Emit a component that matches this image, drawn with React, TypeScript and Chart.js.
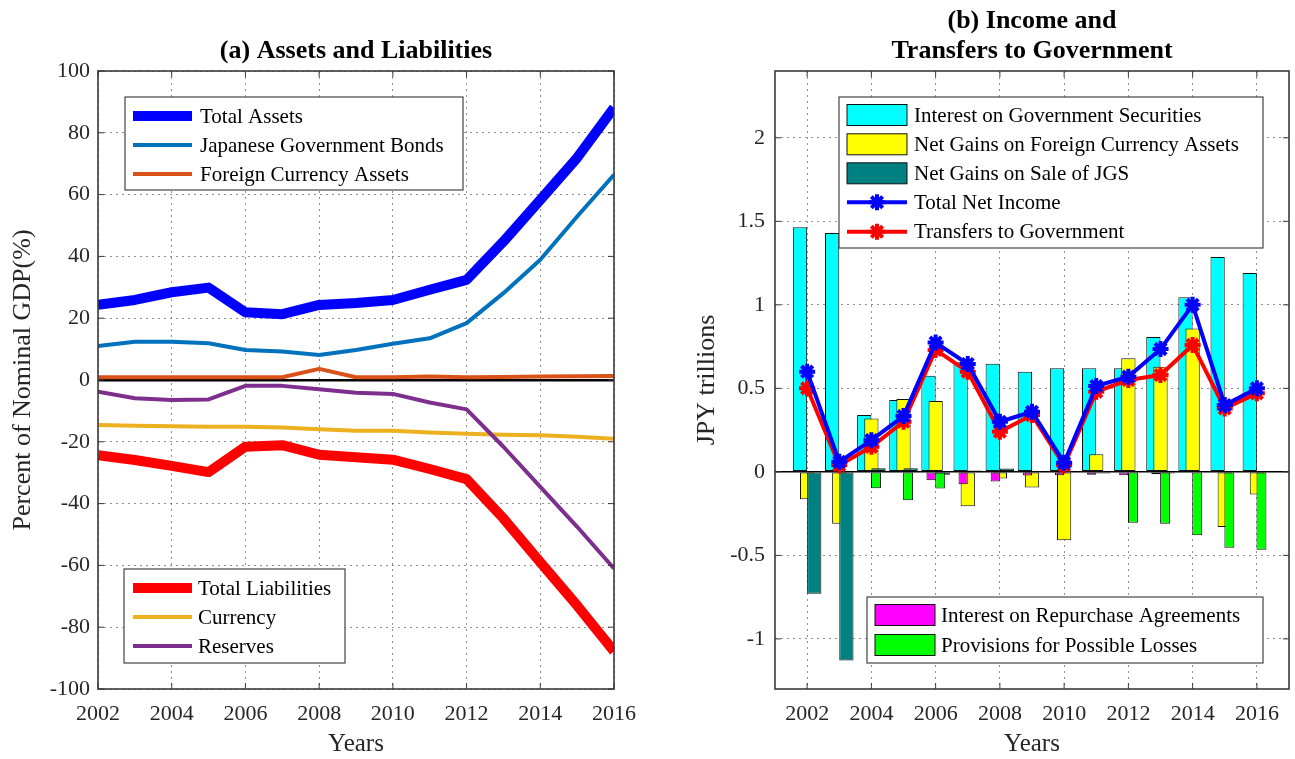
import React, { useEffect, useRef } from 'react';
import { Chart, registerables } from 'chart.js';

Chart.register(...registerables);

const FONT = "'Liberation Serif', 'Times New Roman', Times, serif";
const TEXT = '#262626';

// ---------------- (a) Assets and Liabilities ----------------
const yearsA = [2002, 2003, 2004, 2005, 2006, 2007, 2008, 2009, 2010, 2011, 2012, 2013, 2014, 2015, 2016];
const totalAssets = [24.3, 25.9, 28.4, 29.9, 21.9, 21.3, 24.3, 24.9, 25.9, 29.2, 32.4, 44.8, 58.3, 71.9, 88.1];
const jgbAssets = [11.0, 12.4, 12.4, 11.9, 9.7, 9.2, 8.1, 9.7, 11.7, 13.5, 18.4, 28.1, 38.9, 52.9, 66.4];
const foreignAssets = [0.9, 0.9, 0.9, 0.9, 0.9, 0.9, 3.6, 0.9, 0.9, 1.1, 0.9, 1.0, 1.1, 1.2, 1.3];
const totalLiabilities = [-24.3, -25.9, -27.8, -29.8, -21.6, -21.1, -24.2, -25.0, -25.8, -28.8, -32.1, -44.8, -59.0, -73.0, -87.8];
const currency = [-14.6, -14.8, -15.0, -15.1, -15.1, -15.4, -15.9, -16.4, -16.4, -17.0, -17.4, -17.7, -17.9, -18.4, -19.0];
const reserves = [-3.8, -5.9, -6.5, -6.3, -1.9, -1.9, -3.0, -4.1, -4.5, -7.3, -9.5, -21.6, -34.6, -47.5, -61.0];
const xTicksA = [2002, 2004, 2006, 2008, 2010, 2012, 2014, 2016];
const yTicksA = [-100, -80, -60, -40, -20, 0, 20, 40, 60, 80, 100];

// ---------------- (b) Income and Transfers ----------------
const yearsB = [2002, 2003, 2004, 2005, 2006, 2007, 2008, 2009, 2010, 2011, 2012, 2013, 2014, 2015, 2016];
const interestGovSec = [1.465, 1.43, 0.34, 0.43, 0.576, 0.657, 0.648, 0.60, 0.62, 0.62, 0.62, 0.807, 1.045, 1.287, 1.19];
const fxGains = [-0.164, -0.31, 0.32, 0.436, 0.424, -0.206, -0.04, -0.094, -0.41, 0.106, 0.68, 0.63, 0.858, -0.33, -0.136];
const jgsSaleGains = [-0.73, -1.13, 0.022, 0.022, -0.018, 0.008, 0.02, 0.005, 0, -0.01, 0, -0.01, 0, 0, 0];
const repoInterest = [0, 0, 0, 0, -0.05, -0.074, -0.058, -0.022, -0.02, -0.017, -0.02, -0.015, 0, 0, 0];
const provisions = [0, 0, -0.098, -0.17, -0.1, 0, 0, 0, 0, 0, -0.304, -0.31, -0.38, -0.454, -0.466];
const totalNetIncome = [0.60, 0.06, 0.19, 0.334, 0.774, 0.646, 0.30, 0.36, 0.054, 0.514, 0.57, 0.735, 1.0, 0.40, 0.50];
const transfersGov = [0.50, 0.04, 0.15, 0.30, 0.73, 0.60, 0.24, 0.34, 0.04, 0.48, 0.55, 0.58, 0.76, 0.38, 0.47];
const xTicksB = [2002, 2004, 2006, 2008, 2010, 2012, 2014, 2016];
const yTicksB = [-1, -0.5, 0, 0.5, 1, 1.5, 2];
const X_MIN_B = 2001;
const X_MAX_B = 2017;

const pts = (xs: number[], ys: number[]) => xs.map((x, i) => ({ x, y: ys[i] }));

const isZero = (c: any) => c && c.tick && c.tick.value === 0;

const gridOpts = (zeroWidth: number) => ({
  color: (c: any) => (zeroWidth && isZero(c) ? '#000000' : 'rgba(70,70,70,0.6)'),
  lineWidth: (c: any) => (zeroWidth && isZero(c) ? zeroWidth : 1),
  drawTicks: false,
  offset: false,
});
const borderOpts = (zeroWidth: number) => ({
  display: false,
  dash: (c: any) => (zeroWidth && isZero(c) ? [] : [2, 4]),
});

const setTicks = (values: number[]) => (s: any) => {
  s.ticks = values.map((v) => ({ value: v }));
};

const fitXAxis = (s: any) => {
  s.height = 70;
  s.paddingLeft = 0;
  s.paddingRight = 0;
};

const fmt = (v: any) => String(Math.round(Number(v) * 10) / 10);

const boxPlugin = {
  id: 'axesBox',
  afterDatasetsDraw(chart: any) {
    const { ctx, chartArea: a, scales } = chart;
    ctx.save();
    ctx.strokeStyle = '#3a3a3a';
    ctx.lineWidth = 1;
    ctx.beginPath();
    scales.x.ticks.forEach((t: any) => {
      const px = scales.x.getPixelForValue(t.value);
      ctx.moveTo(px, a.bottom);
      ctx.lineTo(px, a.bottom - 6);
      ctx.moveTo(px, a.top);
      ctx.lineTo(px, a.top + 6);
    });
    scales.y.ticks.forEach((t: any) => {
      const py = scales.y.getPixelForValue(t.value);
      ctx.moveTo(a.left, py);
      ctx.lineTo(a.left + 6, py);
      ctx.moveTo(a.right, py);
      ctx.lineTo(a.right - 6, py);
    });
    ctx.stroke();
    ctx.lineWidth = 1.6;
    ctx.strokeRect(a.left, a.top, a.right - a.left, a.bottom - a.top);
    ctx.restore();
  },
};

type LegendItem = { label: string; kind: 'line' | 'patch' | 'marker'; color: string; width?: number };
type LegendBox = {
  dx: number; dy: number; w: number; h: number;
  rows: number[]; s0: number; s1: number; tx: number;
  items: LegendItem[];
};

const drawStar = (ctx: any, x: number, y: number, r: number, color: string, lw: number) => {
  ctx.save();
  ctx.strokeStyle = color;
  ctx.lineWidth = lw;
  ctx.beginPath();
  for (let k = 0; k < 4; k++) {
    const ang = (k * Math.PI) / 4;
    const dx = Math.cos(ang) * r;
    const dy = Math.sin(ang) * r;
    ctx.moveTo(x - dx, y - dy);
    ctx.lineTo(x + dx, y + dy);
  }
  ctx.stroke();
  ctx.restore();
};

const makeLegendPlugin = (boxes: LegendBox[]) => ({
  id: 'customLegends',
  afterDraw(chart: any) {
    const { ctx, chartArea: ca } = chart;
    ctx.save();
    boxes.forEach((b) => {
      const x = ca.left + b.dx;
      const y = ca.top + b.dy;
      ctx.fillStyle = '#ffffff';
      ctx.fillRect(x, y, b.w, b.h);
      ctx.strokeStyle = '#444444';
      ctx.lineWidth = 1.2;
      ctx.strokeRect(x, y, b.w, b.h);
      b.items.forEach((it, i) => {
        const cy = y + b.rows[i];
        const x0 = x + b.s0;
        const x1 = x + b.s1;
        if (it.kind === 'patch') {
          ctx.fillStyle = it.color;
          ctx.fillRect(x0, cy - 10.5, x1 - x0, 21);
          ctx.strokeStyle = '#111111';
          ctx.lineWidth = 1;
          ctx.strokeRect(x0, cy - 10.5, x1 - x0, 21);
        } else {
          ctx.strokeStyle = it.color;
          ctx.lineWidth = it.width || 4;
          ctx.lineCap = 'butt';
          ctx.beginPath();
          ctx.moveTo(x0, cy);
          ctx.lineTo(x1, cy);
          ctx.stroke();
          if (it.kind === 'marker') drawStar(ctx, (x0 + x1) / 2, cy, 8, it.color, 4);
        }
        ctx.fillStyle = '#000000';
        ctx.font = `21px ${FONT}`;
        ctx.textAlign = 'left';
        ctx.textBaseline = 'middle';
        ctx.fillText(it.label, x + b.tx, cy + 1);
      });
    });
    ctx.restore();
  },
});

const legendA: LegendBox[] = [
  {
    dx: 27, dy: 26, w: 338, h: 93, rows: [19, 48, 77], s0: 8, s1: 67, tx: 75,
    items: [
      { label: 'Total Assets', kind: 'line', color: '#0000FF', width: 10 },
      { label: 'Japanese Government Bonds', kind: 'line', color: '#0072BD', width: 4 },
      { label: 'Foreign Currency Assets', kind: 'line', color: '#D95319', width: 4 },
    ],
  },
  {
    dx: 26, dy: 498, w: 221, h: 94, rows: [19, 48, 77], s0: 9, s1: 68, tx: 74,
    items: [
      { label: 'Total Liabilities', kind: 'line', color: '#FF0000', width: 10 },
      { label: 'Currency', kind: 'line', color: '#EDB120', width: 4 },
      { label: 'Reserves', kind: 'line', color: '#7E2F8E', width: 4 },
    ],
  },
];

const legendB: LegendBox[] = [
  {
    dx: 64, dy: 26, w: 424, h: 151, rows: [18, 47.3, 76.3, 105.3, 134.7], s0: 8, s1: 68, tx: 75,
    items: [
      { label: 'Interest on Government Securities', kind: 'patch', color: '#00FFFF' },
      { label: 'Net Gains on Foreign Currency Assets', kind: 'patch', color: '#FFFF00' },
      { label: 'Net Gains on Sale of JGS', kind: 'patch', color: '#008080' },
      { label: 'Total Net Income', kind: 'marker', color: '#0000FF', width: 4 },
      { label: 'Transfers to Government', kind: 'marker', color: '#FF0000', width: 4 },
    ],
  },
  {
    dx: 92, dy: 526, w: 396, h: 66, rows: [18, 48], s0: 8, s1: 68, tx: 74,
    items: [
      { label: 'Interest on Repurchase Agreements', kind: 'patch', color: '#FF00FF' },
      { label: 'Provisions for Possible Losses', kind: 'patch', color: '#00FF00' },
    ],
  },
];

const lineDs = (label: string, data: number[], color: string, width: number, order: number) => ({
  type: 'line',
  label,
  data: pts(yearsA, data),
  borderColor: color,
  backgroundColor: color,
  borderWidth: width,
  pointRadius: 0,
  tension: 0,
  borderJoinStyle: 'round',
  order,
});

const hiddenX = (shift: number) => ({
  type: 'linear',
  axis: 'x',
  position: 'bottom',
  display: false,
  offset: false,
  min: X_MIN_B - shift,
  max: X_MAX_B - shift,
  afterBuildTicks: (s: any) => {
    s.ticks = [];
  },
  grid: { display: false, offset: false },
});

const barDs = (label: string, data: number[], color: string, axisId: string, pct: number, order: number) => ({
  type: 'bar',
  label,
  data: pts(yearsB, data),
  xAxisID: axisId,
  yAxisID: 'y',
  backgroundColor: color,
  borderColor: '#111111',
  borderWidth: 1,
  borderSkipped: false,
  grouped: false,
  categoryPercentage: 1,
  barPercentage: pct,
  order,
});

const starLine = (label: string, data: number[], color: string, order: number) => ({
  type: 'line',
  label,
  data: pts(yearsB, data),
  xAxisID: 'x',
  yAxisID: 'y',
  borderColor: color,
  backgroundColor: color,
  borderWidth: 4,
  pointStyle: 'star',
  pointRadius: 8,
  pointBorderWidth: 4,
  pointBorderColor: color,
  pointBackgroundColor: color,
  tension: 0,
  borderJoinStyle: 'round',
  order,
});

const tickFont = { family: FONT, size: 22 };
const axisTitleFont = { family: FONT, size: 26, lineHeight: 1.2 };

export default function App() {
  const refA = useRef<HTMLCanvasElement | null>(null);
  const refB = useRef<HTMLCanvasElement | null>(null);

  useEffect(() => {
    const chartA = new Chart(refA.current as HTMLCanvasElement, {
      type: 'line',
      data: {
        datasets: [
          lineDs('Total Assets', totalAssets, '#0000FF', 10, 5),
          lineDs('Japanese Government Bonds', jgbAssets, '#0072BD', 4, 4),
          lineDs('Foreign Currency Assets', foreignAssets, '#D95319', 4, 3),
          lineDs('Total Liabilities', totalLiabilities, '#FF0000', 10, 2),
          lineDs('Currency', currency, '#EDB120', 4, 1),
          lineDs('Reserves', reserves, '#7E2F8E', 4, 0),
        ] as any,
      },
      options: {
        responsive: false,
        animation: false,
        devicePixelRatio: 1,
        layout: { autoPadding: false, padding: { left: 0, right: 33, top: 0, bottom: 0 } },
        plugins: {
          legend: { display: false },
          tooltip: { enabled: false },
          title: {
            display: true,
            fullSize: false,
            text: '(a) Assets and Liabilities',
            color: '#000000',
            font: { family: FONT, size: 26, weight: 'bold', lineHeight: 1.15 },
            padding: { top: 36, bottom: 5.1 },
          },
        },
        scales: {
          x: {
            type: 'linear',
            min: 2002,
            max: 2016,
            offset: false,
            afterBuildTicks: setTicks(xTicksA),
            afterFit: fitXAxis,
            ticks: { font: tickFont, color: TEXT, padding: 12.5, callback: (v: any) => String(v), maxRotation: 0 },
            grid: gridOpts(0),
            border: borderOpts(0),
            title: { display: true, text: 'Years', color: TEXT, font: { family: FONT, size: 25, lineHeight: 1.2 }, padding: { top: 0, bottom: 0 } },
          },
          y: {
            type: 'linear',
            min: -100,
            max: 100,
            afterBuildTicks: setTicks(yTicksA),
            afterFit: (s: any) => {
              s.width = 98;
            },
            ticks: { font: tickFont, color: TEXT, padding: 8, callback: fmt },
            grid: gridOpts(2.5),
            border: borderOpts(2.5),
            title: { display: true, text: 'Percent of Nominal GDP(%)', color: TEXT, font: axisTitleFont, padding: { top: 7.4, bottom: 0 } },
          },
        },
      } as any,
      plugins: [boxPlugin, makeLegendPlugin(legendA)],
    });

    const chartB = new Chart(refB.current as HTMLCanvasElement, {
      type: 'bar',
      data: {
        datasets: [
          starLine('Total Net Income', totalNetIncome, '#0000FF', 0),
          starLine('Transfers to Government', transfersGov, '#FF0000', 1),
          barDs('Provisions for Possible Losses', provisions, '#00FF00', 'xg', 0.31, 2),
          barDs('Interest on Repurchase Agreements', repoInterest, '#FF00FF', 'xm', 0.286, 3),
          barDs('Net Gains on Sale of JGS', jgsSaleGains, '#008080', 'xt', 0.444, 4),
          barDs('Net Gains on Foreign Currency Assets', fxGains, '#FFFF00', 'xy', 0.444, 5),
          barDs('Interest on Government Securities', interestGovSec, '#00FFFF', 'xc', 0.444, 6),
        ] as any,
      },
      options: {
        responsive: false,
        animation: false,
        devicePixelRatio: 1,
        layout: { autoPadding: false, padding: { left: 0, right: 6, top: 0, bottom: 0 } },
        plugins: {
          legend: { display: false },
          tooltip: { enabled: false },
          title: {
            display: true,
            fullSize: false,
            text: ['(b) Income and', 'Transfers to Government'],
            color: '#000000',
            font: { family: FONT, size: 26, weight: 'bold', lineHeight: 1.15 },
            padding: { top: 6.5, bottom: 4.7 },
          },
        },
        scales: {
          x: {
            type: 'linear',
            min: X_MIN_B,
            max: X_MAX_B,
            offset: false,
            afterBuildTicks: setTicks(xTicksB),
            afterFit: fitXAxis,
            ticks: { font: tickFont, color: TEXT, padding: 12.5, callback: (v: any) => String(v), maxRotation: 0 },
            grid: gridOpts(0),
            border: borderOpts(0),
            title: { display: true, text: 'Years', color: TEXT, font: { family: FONT, size: 25, lineHeight: 1.2 }, padding: { top: 0, bottom: 0 } },
          },
          xc: hiddenX(-0.222),
          xy: hiddenX(0.0),
          xt: hiddenX(0.222),
          xm: hiddenX(-0.143),
          xg: hiddenX(0.143),
          y: {
            type: 'linear',
            min: -1.3,
            max: 2.4,
            afterBuildTicks: setTicks(yTicksB),
            afterFit: (s: any) => {
              s.width = 128;
            },
            ticks: { font: tickFont, color: TEXT, padding: 10, callback: fmt },
            grid: gridOpts(1.5),
            border: borderOpts(1.5),
            title: { display: true, text: 'JPY trillions', color: TEXT, font: axisTitleFont, padding: { top: 44.4, bottom: 0 } },
          },
        },
      } as any,
      plugins: [boxPlugin, makeLegendPlugin(legendB)],
    });

    return () => {
      chartA.destroy();
      chartB.destroy();
    };
  }, []);

  return (
    <div style={{ position: 'fixed', left: 0, top: 0, width: 1295, height: 759, overflow: 'hidden', background: '#ffffff' }}>
      <div style={{ position: 'absolute', left: 0, top: 0 }}>
        <canvas ref={refA} width={647} height={759} style={{ display: 'block', width: 647, height: 759 }} />
      </div>
      <div style={{ position: 'absolute', left: 647, top: 0 }}>
        <canvas ref={refB} width={648} height={759} style={{ display: 'block', width: 648, height: 759 }} />
      </div>
    </div>
  );
}
